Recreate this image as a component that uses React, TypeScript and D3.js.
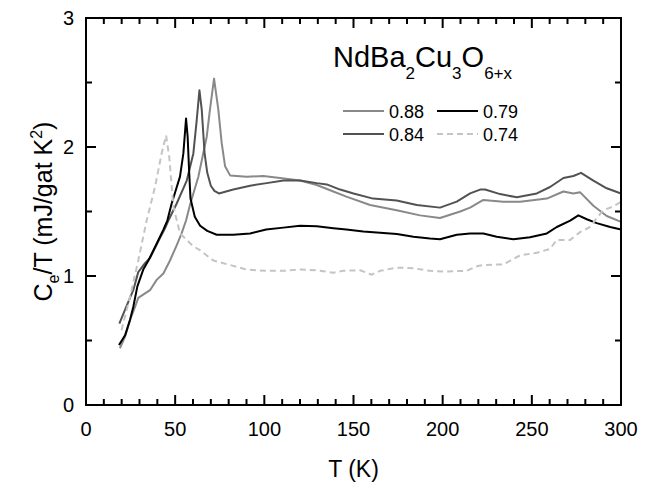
import React from "react";
import * as d3 from "d3";

const W = 654;
const H = 484;

// x-axis ticks
const xMajor = [0, 50, 100, 150, 200, 250, 300];
const yMajor = [0, 1, 2, 3];

// NdBa2Cu3O6+x, x = 0.88
const t088 = [19, 21.9, 24.7, 27.5, 29.3, 33.1, 35.9, 39.6, 43.4, 47.1, 50.9, 53.6, 56.1, 58.3, 63, 67.7, 69.5, 71.8, 74.2, 76.1, 78, 80.8, 90.1, 99.4, 108.8, 120, 129.4, 138.7, 146, 159.3, 174.2, 187.3, 198.5, 209.8, 215.4, 222.8, 234, 243.4, 258.4, 267.7, 273.3, 277, 284.5, 292, 300];
const v088 = [0.44, 0.53, 0.66, 0.76, 0.83, 0.865, 0.89, 0.97, 1.02, 1.12, 1.24, 1.33, 1.43, 1.55, 1.77, 2.08, 2.29, 2.53, 2.29, 2.03, 1.85, 1.78, 1.77, 1.775, 1.76, 1.74, 1.705, 1.655, 1.615, 1.55, 1.51, 1.47, 1.45, 1.5, 1.53, 1.59, 1.575, 1.575, 1.6, 1.655, 1.64, 1.65, 1.545, 1.465, 1.42];

// x = 0.84
const t084 = [18.7, 21.9, 26.5, 29.3, 33.1, 35.9, 40.6, 44.3, 46.2, 50.8, 56.5, 60.2, 62.1, 63.6, 64.9, 66.5, 68, 70, 72, 74.5, 82.6, 92, 101.3, 110.7, 120, 129.4, 135, 142.5, 150, 161, 174.2, 185.5, 198.5, 207.9, 215.4, 221, 223.8, 232.2, 241.6, 252.8, 260.2, 267.7, 273.3, 277.6, 284.5, 292, 300];
const v084 = [0.63, 0.74, 0.89, 1.03, 1.1, 1.14, 1.27, 1.37, 1.43, 1.56, 1.74, 1.95, 2.21, 2.44, 2.29, 1.95, 1.8, 1.7, 1.66, 1.64, 1.67, 1.7, 1.72, 1.74, 1.74, 1.72, 1.71, 1.67, 1.64, 1.6, 1.585, 1.55, 1.53, 1.577, 1.64, 1.67, 1.67, 1.635, 1.61, 1.64, 1.69, 1.76, 1.775, 1.8, 1.74, 1.68, 1.64];

// x = 0.79
const t079 = [18.5, 21.9, 24.7, 26.5, 28.8, 32.1, 35, 39.6, 43.4, 45.6, 48, 52.7, 54.6, 56.1, 57, 57.8, 58.6, 61, 64, 68, 73.3, 82.6, 92, 101, 110.7, 120, 129.4, 138.7, 146, 155.5, 164.9, 174.3, 183.6, 192.9, 198.5, 207.9, 215.4, 222.8, 230.3, 239.7, 249, 258.4, 264, 271.5, 276.1, 280.8, 286.4, 293.9, 300];
const v079 = [0.465, 0.54, 0.66, 0.76, 0.92, 1.05, 1.12, 1.25, 1.36, 1.43, 1.56, 1.77, 1.95, 2.22, 2.08, 1.82, 1.6, 1.46, 1.39, 1.35, 1.32, 1.32, 1.33, 1.36, 1.375, 1.39, 1.385, 1.37, 1.36, 1.345, 1.335, 1.325, 1.305, 1.29, 1.285, 1.32, 1.33, 1.33, 1.305, 1.285, 1.3, 1.33, 1.38, 1.43, 1.47, 1.44, 1.41, 1.38, 1.36];

// x = 0.74
const t074 = [19.9, 24.7, 29.3, 34, 38.7, 42.4, 44.9, 46.7, 49, 52.7, 60.2, 63.9, 71.4, 80.8, 90.1, 101.3, 110.7, 120, 129.4, 138.7, 144.3, 153.7, 160.2, 164.9, 174.2, 183.6, 192.9, 200.4, 213.5, 219.1, 222.8, 234, 243.4, 252.8, 260.2, 264, 271.5, 277, 282.7, 286.4, 290.1, 295.8, 300];
const v074 = [0.58, 0.84, 1.12, 1.43, 1.69, 1.95, 2.09, 1.92, 1.54, 1.33, 1.23, 1.2, 1.12, 1.085, 1.05, 1.04, 1.04, 1.05, 1.045, 1.025, 1.04, 1.045, 1.01, 1.04, 1.065, 1.06, 1.04, 1.035, 1.04, 1.075, 1.085, 1.09, 1.16, 1.18, 1.21, 1.28, 1.28, 1.34, 1.38, 1.45, 1.51, 1.54, 1.575];

const seriesNames = ["0.88", "0.84", "0.79", "0.74"];

const FONT = "'Liberation Sans', Arial, sans-serif";

export default function App() {
  const left = 86, right = 621, top = 18, bottom = 405;
  const x = d3.scaleLinear().domain([0, 300]).range([left, right]);
  const y = d3.scaleLinear().domain([0, 3]).range([bottom, top]);

  const line = d3
    .line<[number, number]>()
    .x((d) => x(d[0]))
    .y((d) => y(d[1]));

  const zip = (t: number[], v: number[]) => t.map((tt, i) => [tt, v[i]] as [number, number]);

  const series = [
    { name: seriesNames[0], data: zip(t088, v088), color: "#898989", dash: "" },
    { name: seriesNames[1], data: zip(t084, v084), color: "#525252", dash: "" },
    { name: seriesNames[2], data: zip(t079, v079), color: "#000000", dash: "" },
    { name: seriesNames[3], data: zip(t074, v074), color: "#c4c4c4", dash: "6,4" },
  ];

  const xMinor = d3.range(0, 301, 10).filter((v) => v % 50 !== 0);
  const yMinor = [0.5, 1.5, 2.5];
  const MAJ = 10;
  const MIN = 6;

  const legend = [
    { s: series[0], lx: 343, ly: 111 },
    { s: series[2], lx: 437, ly: 111 },
    { s: series[1], lx: 343, ly: 134 },
    { s: series[3], lx: 437, ly: 134 },
  ];

  return (
    <svg
      width={W}
      height={H}
      style={{ position: "absolute", left: 0, top: 0, background: "#fff" }}
      fontFamily={FONT}
    >
      <rect x={0} y={0} width={W} height={H} fill="#fff" />
      {series.map((s) => (
        <path
          key={s.name}
          d={line(s.data) || ""}
          fill="none"
          stroke={s.color}
          strokeWidth={2}
          strokeDasharray={s.dash || undefined}
          strokeLinejoin="round"
        />
      ))}

      {/* frame */}
      <rect x={left} y={top} width={right - left} height={bottom - top} fill="none" stroke="#000" strokeWidth={2} />

      {/* x ticks bottom and top */}
      {xMajor.map((v) => (
        <g key={"xm" + v}>
          <line x1={x(v)} x2={x(v)} y1={bottom} y2={bottom - MAJ} stroke="#000" strokeWidth={2} />
          <line x1={x(v)} x2={x(v)} y1={top} y2={top + MAJ} stroke="#000" strokeWidth={2} />
          <text x={x(v)} y={436} fontSize={20} textAnchor="middle">
            {v}
          </text>
        </g>
      ))}
      {xMinor.map((v) => (
        <g key={"xn" + v}>
          <line x1={x(v)} x2={x(v)} y1={bottom} y2={bottom - MIN} stroke="#000" strokeWidth={2} />
          <line x1={x(v)} x2={x(v)} y1={top} y2={top + MIN} stroke="#000" strokeWidth={2} />
        </g>
      ))}

      {/* y ticks left and right */}
      {yMajor.map((v) => (
        <g key={"ym" + v}>
          <line x1={left} x2={left + MAJ} y1={y(v)} y2={y(v)} stroke="#000" strokeWidth={2} />
          <line x1={right} x2={right - MAJ} y1={y(v)} y2={y(v)} stroke="#000" strokeWidth={2} />
          <text x={74} y={y(v) + 7} fontSize={20} textAnchor="end">
            {v}
          </text>
        </g>
      ))}
      {yMinor.map((v) => (
        <g key={"yn" + v}>
          <line x1={left} x2={left + MIN} y1={y(v)} y2={y(v)} stroke="#000" strokeWidth={2} />
          <line x1={right} x2={right - MIN} y1={y(v)} y2={y(v)} stroke="#000" strokeWidth={2} />
        </g>
      ))}

      {/* axis titles */}
      <text x={(left + right) / 2} y={477} fontSize={23} textAnchor="middle">
        T (K)
      </text>
      <text transform={`translate(52, ${(top + bottom) / 2}) rotate(-90)`} fontSize={25} textAnchor="middle">
        C<tspan fontSize={16} dy={7}>e</tspan>
        <tspan dy={-7}>/T (mJ/gat K</tspan>
        <tspan fontSize={16} dy={-10}>2</tspan>
        <tspan dy={10}>)</tspan>
      </text>

      {/* compound title */}
      <text x={333} y={67} fontSize={29}>
        NdBa<tspan fontSize={17} dy={12}>2</tspan>
        <tspan dy={-12}>Cu</tspan>
        <tspan fontSize={17} dy={12}>3</tspan>
        <tspan dy={-12}>O</tspan>
        <tspan fontSize={17} dy={12}>6+x</tspan>
      </text>

      {/* legend */}
      {legend.map((l) => (
        <g key={"lg" + l.s.name}>
          <line
            x1={l.lx}
            x2={l.lx + 41}
            y1={l.ly}
            y2={l.ly}
            stroke={l.s.color}
            strokeWidth={2}
            strokeDasharray={l.s.dash || undefined}
          />
          <text x={l.lx + 46} y={l.ly + 6.5} fontSize={18}>
            {l.s.name}
          </text>
        </g>
      ))}
    </svg>
  );
}
